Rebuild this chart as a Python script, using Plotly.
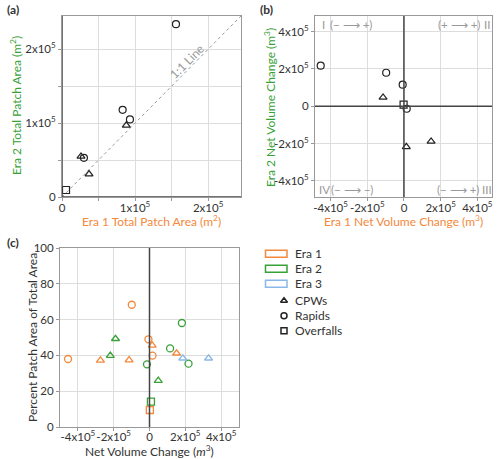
import plotly.graph_objects as go

W, H = 500, 459
FONT = "Lato"
ORANGE = "#f4883c"
GREEN = "#37a137"
BLUE = "#8ab8e8"
DARK = "#333333"
GRID = "#dddddd"
FRAME = "#999999"

# ---------------- data ----------------
# Panel (a): total patch area per site (m^2)
a_type = ["Rapids", "Rapids", "Rapids", "CPWs", "CPWs", "Rapids", "CPWs", "Overfalls"]
a_era1_area = [156000, 83000, 93000, 88000, 26000, 30000, 37000, 5500]
a_era2_area = [234000, 118000, 105000, 97000, 55000, 53000, 31000, 9500]

# Panel (b): net volume change per site (m^3)
b_type = ["Rapids", "Rapids", "Rapids", "CPWs", "Overfalls", "Rapids", "CPWs", "CPWs"]
b_era1_vol = [-454000, -97000, -7000, -114000, -2000, 15000, 13000, 148000]
b_era2_vol = [218000, 180000, 116000, 48000, 9000, -13000, -217000, -188000]

# Panel (c): percent patch area vs net volume change, per era
c_era1_type = ["Rapids", "CPWs", "CPWs", "Rapids", "Rapids", "CPWs", "Rapids", "CPWs", "Overfalls"]
c_era1_vol = [-455000, -274000, -114000, -99000, -6000, 15000, 17000, 151000, 2000]
c_era1_pct = [38.0, 37.2, 37.4, 68.3, 49.0, 45.6, 39.9, 41.2, 9.5]

c_era2_type = ["CPWs", "CPWs", "Rapids", "CPWs", "Overfalls", "Rapids", "Rapids", "Rapids"]
c_era2_vol = [-190000, -219000, -14000, 49000, 8000, 115000, 181000, 218000]
c_era2_pct = [49.3, 39.9, 35.0, 25.9, 14.2, 43.9, 58.1, 35.4]

c_era3_type = ["CPWs", "CPWs"]
c_era3_vol = [186000, 330000]
c_era3_pct = [38.4, 38.4]

site_types = ["CPWs", "Rapids", "Overfalls"]
era_names = ["Era 1", "Era 2", "Era 3"]
era_colors = [ORANGE, GREEN, BLUE]

a_ticks = [0, 100000, 200000]
a_ticklabels = ["0", "1x10<sup>5</sup>", "2x10<sup>5</sup>"]
vol_ticks = [-400000, -200000, 0, 200000, 400000]
vol_ticklabels = ["-4x10<sup>5</sup>", "-2x10<sup>5</sup>", "0", "2x10<sup>5</sup>", "4x10<sup>5</sup>"]
pct_ticks = [0, 20, 40, 60, 80, 100]

SYM = {"CPWs": "triangle-up-open", "Rapids": "circle-open", "Overfalls": "square-open"}

# ---------------- layout helpers ----------------
def px_x(x):
    return x / W

def px_y(y):
    return 1 - y / H

A_BOX = (62, 241, 16, 197)
B_BOX = (315, 492, 16, 197)
C_BOX = (60, 239, 248, 427)
L_BOX = (274, 294, 294, 338)   # small invisible subplot holding the legend symbols

def dom(box):
    l, r, t, b = box
    return [px_x(l), px_x(r)], [px_y(b), px_y(t)]

fig = go.Figure()

# ---- panel (a)
fig.add_trace(go.Scatter(
    x=[0, 245000], y=[0, 245000], mode="lines",
    line=dict(color="#999999", width=1, dash="dot"),
    xaxis="x", yaxis="y", showlegend=False, hoverinfo="skip"))
fig.add_trace(go.Scatter(
    x=a_era1_area, y=a_era2_area, mode="markers",
    marker=dict(symbol=[SYM[t] for t in a_type], size=7, color="#222222",
                line=dict(width=1.2, color="#222222")),
    xaxis="x", yaxis="y", showlegend=False, cliponaxis=False))

# ---- panel (b)
fig.add_trace(go.Scatter(
    x=b_era1_vol, y=b_era2_vol, mode="markers",
    marker=dict(symbol=[SYM[t] for t in b_type], size=7, color="#222222",
                line=dict(width=1.2, color="#222222")),
    xaxis="x2", yaxis="y2", showlegend=False, cliponaxis=False))

# ---- panel (c)
for vols, pcts, types, col in [
        (c_era1_vol, c_era1_pct, c_era1_type, ORANGE),
        (c_era2_vol, c_era2_pct, c_era2_type, GREEN),
        (c_era3_vol, c_era3_pct, c_era3_type, BLUE)]:
    fig.add_trace(go.Scatter(
        x=vols, y=pcts, mode="markers",
        marker=dict(symbol=[SYM[t] for t in types], size=7, color=col,
                    line=dict(width=1.3, color=col)),
        xaxis="x3", yaxis="y3", showlegend=False, cliponaxis=False))

# ---- legend symbols (small invisible subplot, row index 0..2)
fig.add_trace(go.Scatter(
    x=[0, 0, 0], y=[0, 1, 2], mode="markers",
    marker=dict(symbol=[SYM[t] for t in site_types], size=6, color="#222222",
                line=dict(width=1.5, color="#222222")),
    xaxis="x4", yaxis="y4", showlegend=False, hoverinfo="skip", cliponaxis=False))

tickfont = dict(family=FONT, size=11.5, color=DARK)

def axis_common(box_dom, anchor, rng, tickvals, ticktext, standoff=0):
    return dict(domain=box_dom, anchor=anchor, range=rng, tickvals=tickvals,
                ticktext=ticktext, showgrid=True, gridcolor=GRID, gridwidth=1,
                zeroline=False, showline=True, linecolor=FRAME, linewidth=1,
                mirror=True, ticks="outside", ticklen=3, tickcolor=FRAME,
                tickfont=tickfont, tickangle=0, automargin=False, fixedrange=True,
                ticklabelstandoff=standoff)

ax_d, ay_d = dom(A_BOX)
bx_d, by_d = dom(B_BOX)
cx_d, cy_d = dom(C_BOX)
lx_d, ly_d = dom(L_BOX)

leg_px = 15.0
layout = dict(
    width=W, height=H, margin=dict(l=0, r=0, t=0, b=0),
    paper_bgcolor="white", plot_bgcolor="white",
    font=dict(family=FONT, size=12, color=DARK),
    xaxis=axis_common(ax_d, "y", [0, 245000], a_ticks, a_ticklabels, -3),
    yaxis=axis_common(ay_d, "x", [0, 245000], a_ticks, a_ticklabels),
    xaxis2=axis_common(bx_d, "y2", [-485000, 480000], vol_ticks, vol_ticklabels, -3),
    yaxis2=axis_common(by_d, "x2", [-486000, 484000], vol_ticks, vol_ticklabels),
    xaxis3=axis_common(cx_d, "y3", [-500000, 500000], vol_ticks, vol_ticklabels, -4),
    yaxis3=axis_common(cy_d, "x3", [0, 100], pct_ticks, [str(v) for v in pct_ticks]),
    xaxis4=dict(domain=lx_d, anchor="y4", range=[-0.5, 0.5], visible=False, fixedrange=True),
    yaxis4=dict(domain=ly_d, anchor="x4",
                range=[(338 - 300.7) / leg_px, (294 - 300.7) / leg_px],
                visible=False, fixedrange=True),
)
layout["xaxis"]["minor"] = dict(dtick=50000, showgrid=True, gridcolor=GRID, ticks="outside", ticklen=3, tickcolor=FRAME)
layout["yaxis"]["minor"] = dict(dtick=50000, showgrid=True, gridcolor=GRID, ticks="outside", ticklen=3, tickcolor=FRAME)
fig.update_layout(**layout)

shapes = []
# zero / axis lines
for xr, yr in [("x", "y"), ("x2", "y2"), ("x3", "y3")]:
    shapes.append(dict(type="line", xref=xr, yref=yr + " domain", x0=0, x1=0, y0=0, y1=1,
                       line=dict(color="#444444", width=1.5)))
for xr, yr in [("x", "y"), ("x2", "y2")]:
    shapes.append(dict(type="line", xref=xr + " domain", yref=yr, x0=0, x1=1, y0=0, y1=0,
                       line=dict(color="#444444", width=1.5)))
# legend era boxes
leg_era_rows = [253.7, 268.7, 283.7]
for yc, col in zip(leg_era_rows, era_colors):
    shapes.append(dict(type="rect", xref="paper", yref="paper",
                       x0=px_x(265.5), x1=px_x(287), y0=px_y(yc + 3.5), y1=px_y(yc - 3.5),
                       line=dict(color=col, width=1.5), fillcolor="white"))

ann = []
def text(x, y, s, size=12, color=DARK, angle=0, xanchor="center", bold=False, fam=FONT):
    ann.append(dict(x=px_x(x), y=px_y(y), xref="paper", yref="paper", text=("<b>%s</b>" % s) if bold else s,
                    showarrow=False, xanchor=xanchor, yanchor="middle", textangle=angle,
                    font=dict(family=fam, size=size, color=color)))

# panel labels
text(5, 10, "(a)", size=12, xanchor="left", bold=True)
text(258, 10, "(b)", size=12, xanchor="left", bold=True)
text(5, 242, "(c)", size=12, xanchor="left", bold=True)

# axis titles
text(151.5, 221, "Era 1 Total Patch Area (m<sup>2</sup>)", color=ORANGE)
text(16, 106, "Era 2 Total Patch Area (m<sup>2</sup>)", color=GREEN, angle=-90)
text(403, 221, "Era 1 Net Volume Change (m<sup>3</sup>)", color=ORANGE)
text(270, 108, "Era 2 Net Volume Change (m<sup>3</sup>)", color=GREEN, angle=-90)
text(149.5, 451, "Net Volume Change (<i>m</i><sup>3</sup>)")
text(32, 338, "Percent Patch Area of Total Area", angle=-90)

# 1:1 line label
ann.append(dict(x=171000, y=183000, xref="x", yref="y", text="1:1 Line", showarrow=False,
                textangle=-45, font=dict(family=FONT, size=12, color="#999999")))

# quadrant labels
QC = "#999999"
text(323, 25, "I", color=QC, size=11.5)
text(351, 25, "(− ⟶ +)", color=QC, size=11.5)
text(459, 25, "(+ ⟶ +)", color=QC, size=11.5)
text(486.5, 25, "II", color=QC, size=11.5)
text(324, 189, "IV", color=QC, size=11.5)
text(352, 189, "(− ⟶ −)", color=QC, size=11.5)
text(458, 189, "(− ⟶ +)", color=QC, size=11.5)
text(486.5, 189, "III", color=QC, size=11.5)

# legend labels
for yc, name in zip(leg_era_rows, era_names):
    text(293, yc, name, xanchor="left")
for i, name in enumerate(site_types):
    text(293, 300.7 + i * leg_px, name, xanchor="left")

fig.update_layout(shapes=shapes, annotations=ann)
fig.write_html("out.html")
